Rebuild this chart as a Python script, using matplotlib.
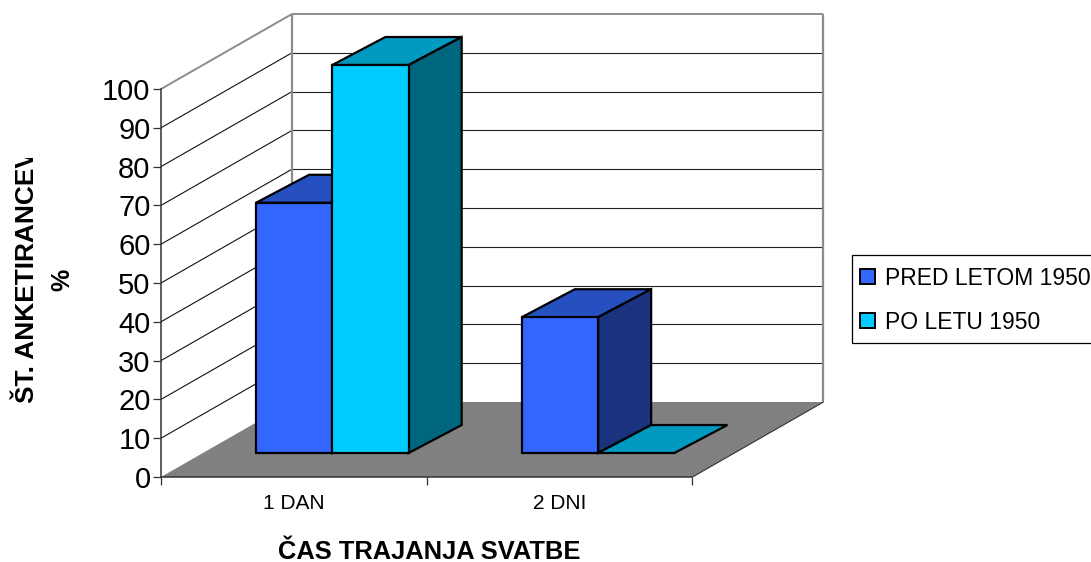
import matplotlib
matplotlib.use('Agg')
import matplotlib.pyplot as plt
from matplotlib.patches import Patch, Rectangle

plt.rcParams['font.family'] = ['Liberation Sans', 'DejaVu Sans']

# data
categories = ['1 DAN', '2 DNI']
series_names = ['PRED LETOM 1950', 'PO LETU 1950']
pred_letom = [64.5, 35]
po_letu = [100, 0]
y_ticks = list(range(0, 101, 10))

W, H = 1091, 562
fig = plt.figure(figsize=(W / 100, H / 100), dpi=100)
# the axes is the front plane of the 3d box
ax = fig.add_axes([161 / W, 1 - 477 / H, 531.5 / W, 388 / H])
ax.set_xlim(0, 2)
ax.set_ylim(0, 100)
ax.patch.set_visible(False)

# depth shift of the box, in data units
x_per_depth = 131 / (531.5 / 2)
y_per_depth = 75 / 3.88
WALL = (1, 1)
NONE = (0, 0)
FRONT = (0.32, 0.32)
BACK = (0.725, 0.693)


def pt(x, v, d):
    return (x + d[0] * x_per_depth, v + d[1] * y_per_depth)


def face(points, color, z, edge='none', lw=0):
    xs = [p[0] for p in points]
    ys = [p[1] for p in points]
    ax.fill(xs, ys, facecolor=color, edgecolor=edge, linewidth=lw, zorder=z,
            clip_on=False, joinstyle='miter')


def line(a, b, color, lw, z):
    ax.plot([a[0], b[0]], [a[1], b[1]], color=color, lw=lw, zorder=z,
            clip_on=False, solid_capstyle='butt')


# walls
for v in y_ticks[1:-1]:
    line(pt(0, v, NONE), pt(0, v, WALL), '#111111', 0.8, 1)
    line(pt(0, v, WALL), pt(2, v, WALL), '#222222', 0.8, 1)
line(pt(0, 100, NONE), pt(0, 100, WALL), '#8c8c8c', 1.4, 1)
line(pt(0, 100, WALL), pt(2, 100, WALL), '#8c8c8c', 1.4, 1)
line(pt(0, 0, WALL), pt(0, 100, WALL), '#8c8c8c', 1.6, 1)
line(pt(2, 0, WALL), pt(2, 100, WALL), '#8c8c8c', 1.6, 1)

# floor
face([pt(0, 0, NONE), pt(2, 0, NONE), pt(2, 0, WALL), pt(0, 0, WALL)], '#808080', 2)
line(pt(2, 0, NONE), pt(2, 0, WALL), '#333333', 0.8, 2)

# bars
colors = [('#3366ff', '#2650bf', '#19337f'), ('#00ccff', '#0099bf', '#00667f')]
gap = 0.2
bar_w = 0.287
z = 3
for i in range(len(categories)):
    for s, values in enumerate([pred_letom, po_letu]):
        v = values[i]
        x0 = i + gap + s * bar_w
        x1 = x0 + bar_w
        c_front, c_top, c_side = colors[s]
        kw = dict(edge='black', lw=1.6)
        face([pt(x0, v, FRONT), pt(x1, v, FRONT), pt(x1, v, BACK), pt(x0, v, BACK)], c_top, z, **kw)
        if v > 0:
            face([pt(x1, 0, FRONT), pt(x1, v, FRONT), pt(x1, v, BACK), pt(x1, 0, BACK)], c_side, z, **kw)
            face([pt(x0, 0, FRONT), pt(x1, 0, FRONT), pt(x1, v, FRONT), pt(x0, v, FRONT)], c_front, z, **kw)
        z += 1

# axes
for name in ['top', 'right']:
    ax.spines[name].set_visible(False)
for name in ['left', 'bottom']:
    ax.spines[name].set_color('#333333')
    ax.spines[name].set_linewidth(1.1)
    ax.spines[name].set_zorder(20)
ax.set_yticks(y_ticks)
ax.set_yticklabels([str(t) for t in y_ticks], fontsize=21)
ax.tick_params(axis='y', length=5.5, width=0.9, color='#333333', pad=2)
ax.set_xticks(range(len(categories) + 1))
ax.set_xticklabels([])
ax.tick_params(axis='x', which='major', length=5.5, width=0.9, color='#333333')
ax.set_xticks([i + 0.5 for i in range(len(categories))], minor=True)
ax.set_xticklabels(categories, minor=True, fontsize=15)
ax.tick_params(axis='x', which='minor', length=0, pad=12.5)

# axis titles
fig.text(429.5 / W, 1 - 559 / H, 'ČAS TRAJANJA SVATBE', fontsize=18.4, fontweight='bold',
         ha='center', va='baseline')
clip = Rectangle((0, 1 - 403 / H), 50 / W, 245 / H, transform=fig.transFigure)
t = fig.text(27 / W, 1 - 403 / H, 'ŠT. ANKETIRANCEV', fontsize=18.9, fontweight='bold',
             rotation=90, ha='center', va='bottom', clip_on=True)
t.set_clip_path(clip)
fig.text(62.5 / W, 1 - 280 / H, '%', fontsize=18, fontweight='bold', rotation=90,
         ha='center', va='center')

# legend box runs off the right edge like the original
fig.patches.append(Rectangle((852 / W, 1 - 343 / H), 300 / W, 88 / H, transform=fig.transFigure,
                             facecolor='white', edgecolor='black', linewidth=0.9))
handles = [Patch(facecolor=colors[0][0], edgecolor='black', linewidth=1.4),
           Patch(facecolor=colors[1][0], edgecolor='black', linewidth=1.4)]
leg = fig.legend(handles, series_names, loc='upper left',
                 bbox_to_anchor=(860 / W, 1 - 266.5 / H), bbox_transform=fig.transFigure,
                 fontsize=16.5, frameon=False,
                 handlelength=0.65, handleheight=0.65, handletextpad=0.45,
                 labelspacing=0.92, borderpad=0, borderaxespad=0, labelcolor='black')

fig.savefig('out.png', dpi=100)
